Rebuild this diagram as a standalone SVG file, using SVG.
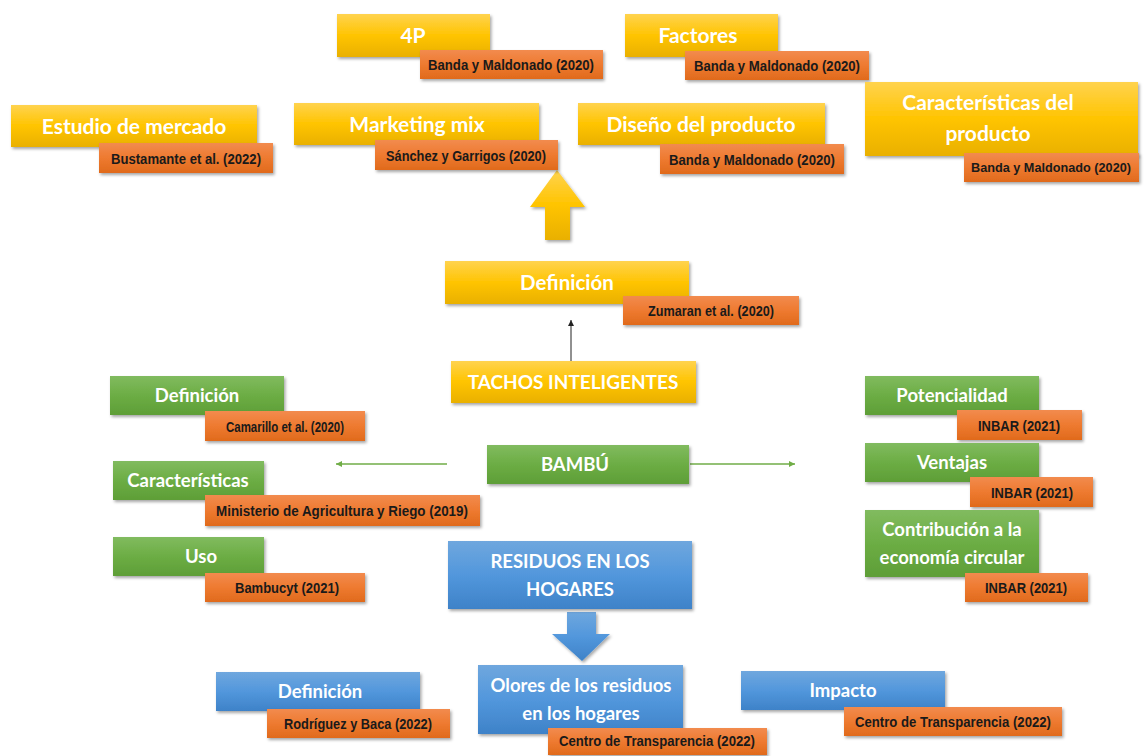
<svg xmlns="http://www.w3.org/2000/svg" width="1144" height="756" viewBox="0 0 1144 756">
<defs>
<linearGradient id="gy" x1="0" y1="0" x2="0" y2="1"><stop offset="0" stop-color="#FFD34F"/><stop offset="0.5" stop-color="#FFC400"/><stop offset="1" stop-color="#E9B000"/></linearGradient>
<linearGradient id="gg" x1="0" y1="0" x2="0" y2="1"><stop offset="0" stop-color="#81BB5F"/><stop offset="0.5" stop-color="#6CAD44"/><stop offset="1" stop-color="#5E9E37"/></linearGradient>
<linearGradient id="gb" x1="0" y1="0" x2="0" y2="1"><stop offset="0" stop-color="#6FA7DE"/><stop offset="0.5" stop-color="#5297DC"/><stop offset="1" stop-color="#3E82C8"/></linearGradient>
<linearGradient id="go" x1="0" y1="0" x2="0" y2="1"><stop offset="0" stop-color="#F28B4E"/><stop offset="0.5" stop-color="#EE7A30"/><stop offset="1" stop-color="#E06A1C"/></linearGradient>
<filter id="sh" x="-10%" y="-20%" width="120%" height="150%"><feDropShadow dx="1.5" dy="2" stdDeviation="1.5" flood-color="#000" flood-opacity="0.35"/></filter>
<marker id="ma" markerWidth="8" markerHeight="8" refX="6" refY="3" orient="auto" markerUnits="userSpaceOnUse"><path d="M0,0 L6,3 L0,6 z" fill="#222"/></marker>
<marker id="mg" markerWidth="8" markerHeight="8" refX="6" refY="3" orient="auto" markerUnits="userSpaceOnUse"><path d="M0,0 L6,3 L0,6 z" fill="#70AD47"/></marker>
</defs>
<style>
.y{fill:url(#gy);filter:url(#sh)}
.g{fill:url(#gg);filter:url(#sh)}
.b{fill:url(#gb);filter:url(#sh)}
.o{fill:url(#go);filter:url(#sh)}
.t{font-family:Lato,"Open Sans","Liberation Sans",sans-serif;font-weight:bold;fill:#fff;text-anchor:middle}
.t1{font-size:21px}
.t2{font-size:19px}
.t3{font-size:18.5px}
.c{font-family:"Liberation Sans",Arial,sans-serif;font-weight:bold;font-size:14.5px;fill:#1a1a1a;text-anchor:middle}
.cs{font-size:12px}
</style>
<rect width="1144" height="756" fill="#fff"/>

<g id="connectors">
<polygon class="y" points="557,170 530,207 545,207 545,240 570,240 570,207 585,207"/>
<line x1="571" y1="361" x2="571" y2="320" stroke="#222" stroke-width="1" marker-end="url(#ma)"/>
<line x1="447" y1="464" x2="336" y2="464" stroke="#70AD47" stroke-width="1.5" marker-end="url(#mg)"/>
<line x1="690" y1="464" x2="795" y2="464" stroke="#70AD47" stroke-width="1.5" marker-end="url(#mg)"/>
<polygon class="b" points="567,612 596,612 596,634 610,634 582,661 552,634 567,634"/>
</g>

<g id="n-4p">
<rect class="y" x="337" y="14" width="153" height="43"/>
<text class="t t1" x="413" y="43">4P</text>
<rect class="o" x="420" y="50" width="183" height="29"/>
<text class="c" x="511" y="70" textLength="166" lengthAdjust="spacingAndGlyphs">Banda y Maldonado (2020)</text>
</g>

<g id="n-factores">
<rect class="y" x="625" y="14" width="153" height="43"/>
<text class="t t1" x="698" y="43">Factores</text>
<rect class="o" x="685" y="51" width="184" height="29"/>
<text class="c" x="777" y="71" textLength="166" lengthAdjust="spacingAndGlyphs">Banda y Maldonado (2020)</text>
</g>

<g id="n-estudio">
<rect class="y" x="11" y="105" width="246" height="42"/>
<text class="t t1" x="134" y="134">Estudio de mercado</text>
<rect class="o" x="99" y="143" width="174" height="30"/>
<text class="c" x="186" y="164" textLength="150" lengthAdjust="spacingAndGlyphs">Bustamante et al. (2022)</text>
</g>

<g id="n-marketing">
<rect class="y" x="294" y="103" width="245" height="42"/>
<text class="t t1" x="417" y="132">Marketing mix</text>
<rect class="o" x="375" y="140" width="183" height="30"/>
<text class="c" x="466" y="161" textLength="160" lengthAdjust="spacingAndGlyphs">Sánchez y Garrigos (2020)</text>
</g>

<g id="n-diseno">
<rect class="y" x="578" y="103" width="247" height="42"/>
<text class="t t1" x="701" y="132">Diseño del producto</text>
<rect class="o" x="660" y="144" width="184" height="30"/>
<text class="c" x="752" y="165" textLength="166" lengthAdjust="spacingAndGlyphs">Banda y Maldonado (2020)</text>
</g>

<g id="n-caracteristicas-prod">
<rect class="y" x="865" y="82" width="273" height="74"/>
<text class="t t1" x="988" y="110">Características del</text>
<text class="t t1" x="988" y="141">producto</text>
<rect class="o" x="964" y="153" width="175" height="29"/>
<text class="c cs" x="1051" y="172" textLength="160" lengthAdjust="spacingAndGlyphs">Banda y Maldonado (2020)</text>
</g>

<g id="n-definicion-tachos">
<rect class="y" x="445" y="261" width="244" height="43"/>
<text class="t" x="567" y="290" font-size="20.5">Definición</text>
<rect class="o" x="623" y="296" width="176" height="29"/>
<text class="c" x="711" y="316" textLength="126" lengthAdjust="spacingAndGlyphs">Zumaran et al. (2020)</text>
</g>

<g id="n-tachos">
<rect class="y" x="451" y="361" width="245" height="42"/>
<text class="t t2" x="573" y="389">TACHOS INTELIGENTES</text>
</g>

<g id="n-bambu">
<rect class="g" x="487" y="445" width="202" height="39"/>
<text class="t t3" x="575" y="471">BAMBÚ</text>
</g>

<g id="n-definicion-bambu">
<rect class="g" x="110" y="376" width="174" height="39"/>
<text class="t t3" x="197" y="402">Definición</text>
<rect class="o" x="205" y="411" width="160" height="30"/>
<text class="c" x="285" y="432" textLength="118" lengthAdjust="spacingAndGlyphs">Camarillo et al. (2020)</text>
</g>

<g id="n-caracteristicas-bambu">
<rect class="g" x="113" y="461" width="151" height="39"/>
<text class="t t3" x="188" y="487">Características</text>
<rect class="o" x="205" y="495" width="275" height="31"/>
<text class="c" x="342" y="516" textLength="252" lengthAdjust="spacingAndGlyphs">Ministerio de Agricultura y Riego (2019)</text>
</g>

<g id="n-uso">
<rect class="g" x="113" y="537" width="151" height="39"/>
<text class="t t3" x="201" y="563">Uso</text>
<rect class="o" x="205" y="573" width="160" height="29"/>
<text class="c" x="287" y="593" textLength="104" lengthAdjust="spacingAndGlyphs">Bambucyt (2021)</text>
</g>

<g id="n-potencialidad">
<rect class="g" x="865" y="376" width="174" height="39"/>
<text class="t t3" x="952" y="402">Potencialidad</text>
<rect class="o" x="957" y="410" width="125" height="30"/>
<text class="c" x="1019" y="431" textLength="82" lengthAdjust="spacingAndGlyphs">INBAR (2021)</text>
</g>

<g id="n-ventajas">
<rect class="g" x="865" y="443" width="174" height="39"/>
<text class="t t3" x="952" y="469">Ventajas</text>
<rect class="o" x="970" y="477" width="123" height="30"/>
<text class="c" x="1032" y="498" textLength="82" lengthAdjust="spacingAndGlyphs">INBAR (2021)</text>
</g>

<g id="n-contribucion">
<rect class="g" x="865" y="510" width="174" height="67"/>
<text class="t t3" x="952" y="536">Contribución a la</text>
<text class="t t3" x="952" y="564">economía circular</text>
<rect class="o" x="965" y="573" width="123" height="29"/>
<text class="c" x="1026" y="593" textLength="82" lengthAdjust="spacingAndGlyphs">INBAR (2021)</text>
</g>

<g id="n-residuos">
<rect class="b" x="448" y="541" width="244" height="68"/>
<text class="t t3" x="570" y="568">RESIDUOS EN LOS</text>
<text class="t t3" x="570" y="596">HOGARES</text>
</g>

<g id="n-definicion-residuos">
<rect class="b" x="216" y="672" width="204" height="39"/>
<text class="t t3" x="320" y="698">Definición</text>
<rect class="o" x="267" y="709" width="183" height="29"/>
<text class="c" x="358" y="729" textLength="148" lengthAdjust="spacingAndGlyphs">Rodríguez y Baca (2022)</text>
</g>

<g id="n-olores">
<rect class="b" x="478" y="665" width="205" height="69"/>
<text class="t t3" x="581" y="692">Olores de los residuos</text>
<text class="t t3" x="581" y="720">en los hogares</text>
<rect class="o" x="548" y="728" width="219" height="27"/>
<text class="c" x="657" y="746" textLength="196" lengthAdjust="spacingAndGlyphs">Centro de Transparencia (2022)</text>
</g>

<g id="n-impacto">
<rect class="b" x="741" y="671" width="204" height="39"/>
<text class="t t3" x="843" y="697">Impacto</text>
<rect class="o" x="844" y="707" width="218" height="29"/>
<text class="c" x="953" y="727" textLength="196" lengthAdjust="spacingAndGlyphs">Centro de Transparencia (2022)</text>
</g>
</svg>
